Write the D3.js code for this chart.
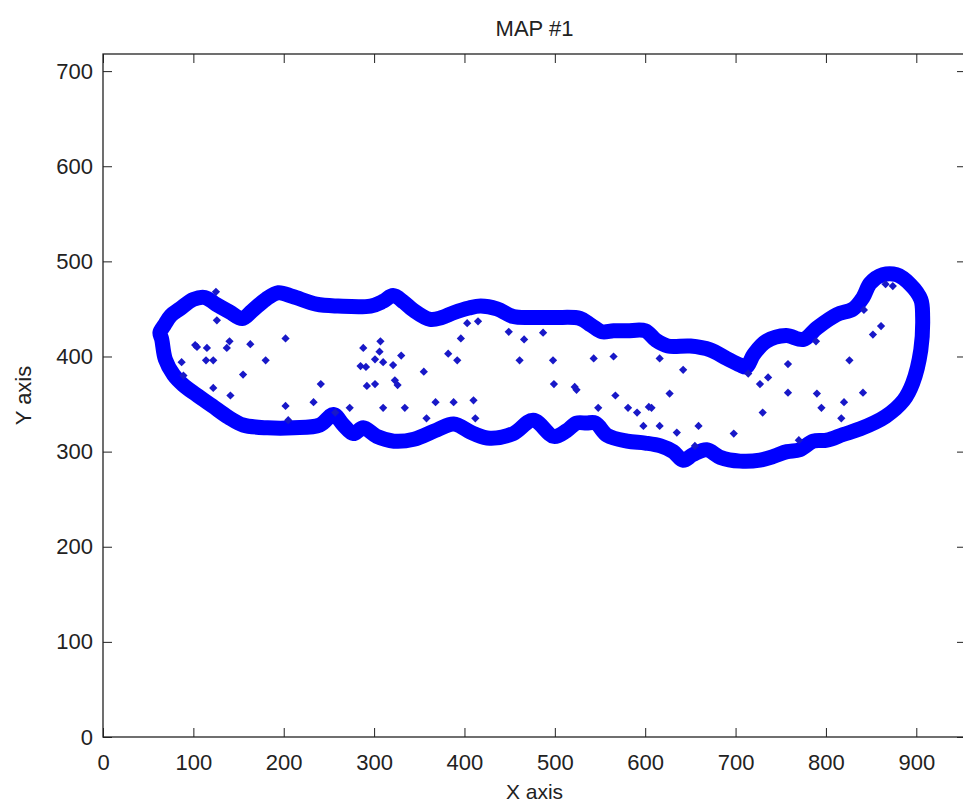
<!DOCTYPE html>
<html>
<head>
<meta charset="utf-8">
<script src="https://cdn.jsdelivr.net/npm/d3@7"></script>
<style>
  body { margin: 0; background: #fff; }
  text { font-family: Arial, 'Liberation Sans', sans-serif; fill: #222; }
</style>
</head>
<body>
<div id="map-chart"></div>
<script>
/* global d3 */

// outline of the area, traced clockwise from the left tip
const boundaryX = [63, 68, 75, 85, 100, 113, 125, 140, 154, 165, 180, 194, 210, 236, 260, 296, 310, 321, 333, 343,
  362, 375, 388, 405, 418, 436, 454, 475, 500, 528, 540, 552, 565, 580, 600, 612, 625, 650, 672, 690,
  705, 712, 720, 734, 756, 775, 790, 812, 830, 841, 849, 863, 878, 893, 905, 907, 905, 896, 886, 866,
  838, 819, 801, 786, 771, 757, 742, 727, 705, 683, 668, 653, 642, 631, 617, 600, 580, 558, 545, 535,
  524, 513, 499, 476, 454, 428, 410, 388, 370, 344, 322, 303, 288, 277, 266, 255, 240, 211, 182, 155,
  139, 121, 103, 89, 78, 69, 65]
const boundaryY = [425, 433, 443, 450, 460, 462, 455, 447, 440, 448, 460, 467, 463, 455, 453, 453, 458, 464, 457, 449,
  439, 441, 446, 451, 453, 450, 442, 441, 441, 440, 433, 426, 427, 427, 427, 417, 411, 411, 407, 398,
  391, 389, 402, 416, 422, 418, 430, 444, 450, 462, 477, 486, 486, 476, 460, 442, 407, 372, 354, 337,
  324, 318, 312, 311, 302, 300, 295, 291, 290, 294, 302, 297, 291, 300, 306, 309, 311, 317, 330, 330,
  330, 322, 316, 333, 319, 314, 319, 329, 323, 313, 311, 316, 325, 319, 328, 339, 328, 325, 325, 328,
  336, 348, 360, 370, 381, 397, 418]

// sample points inside the area
const pointsX = [125, 126, 102, 104, 115, 140, 137, 163, 202, 87, 114, 122, 180, 89, 155, 122, 141, 241, 202, 233,
  273, 257, 205, 288, 285, 291, 292, 307, 306, 301, 310, 321, 330, 301, 323, 326, 310, 334, 355, 358,
  368, 388, 410, 412, 382, 392, 396, 403, 415, 449, 466, 461, 487, 498, 499, 522, 524, 543, 565, 548,
  567, 581, 591, 604, 607, 598, 616, 627, 635, 642, 616, 659, 655, 698, 714, 727, 736, 730, 758, 758,
  789, 790, 795, 820, 817, 770, 826, 841, 842, 852, 861, 866, 874]
const pointsY = [468, 438, 412, 410, 409, 416, 409, 413, 419, 394, 396, 396, 396, 380, 381, 367, 359, 371, 348, 352,
  346, 341, 333, 409, 390, 389, 369, 416, 405, 397, 394, 391, 401, 371, 375, 370, 346, 346, 384, 335,
  352, 352, 354, 335, 403, 396, 419, 435, 437, 426, 418, 396, 425, 396, 371, 368, 365, 398, 400, 346,
  359, 346, 341, 347, 346, 327, 327, 361, 320, 386, 398, 327, 306, 319, 382, 371, 378, 341, 392, 362,
  416, 361, 346, 352, 335, 312, 396, 362, 449, 423, 432, 476, 474]

const xTicks = [0, 100, 200, 300, 400, 500, 600, 700, 800, 900]
const yTicks = [0, 100, 200, 300, 400, 500, 600, 700]

const renderMap = () => {
  const svgWidth = 963
  const svgHeight = 805
  // the frame runs a few px past the right edge of the picture
  const margin = { top: 54, right: -3, bottom: 68, left: 103 }
  const width = svgWidth - margin.left - margin.right
  const height = svgHeight - margin.top - margin.bottom

  const xScale = d3.scaleLinear()
    .domain([0, 955])
    .range([0, width])

  const yScale = d3.scaleLinear()
    .domain([0, 718])
    .range([height, 0])

  const root = d3.select('#map-chart').append('svg')
    .attr('width', svgWidth)
    .attr('height', svgHeight)
    .style('display', 'block')

  root.append('rect')
    .attr('width', svgWidth)
    .attr('height', svgHeight)
    .attr('fill', '#fff')

  const svg = root.append('g')
    .attr('transform', 'translate(' + margin.left + ',' + margin.top + ')')

  const tickLen = 9

  // bottom / left axes with labels, ticks pointing inward
  const xAxis = svg.append('g')
    .attr('transform', 'translate(0,' + height + ')')
    .call(d3.axisBottom(xScale).tickValues(xTicks).tickSize(-tickLen).tickPadding(tickLen + 8))
  const yAxis = svg.append('g')
    .call(d3.axisLeft(yScale).tickValues(yTicks).tickSize(-tickLen).tickPadding(10))
  // top / right: ticks only
  const xTop = svg.append('g')
    .call(d3.axisTop(xScale).tickValues(xTicks).tickSize(-tickLen).tickFormat(''))
  const yRight = svg.append('g')
    .attr('transform', 'translate(' + width + ',0)')
    .call(d3.axisRight(yScale).tickValues(yTicks).tickSize(-tickLen).tickFormat(''))

  ;[xAxis, yAxis, xTop, yRight].forEach((g) => {
    g.select('.domain').remove()
    g.selectAll('.tick line').attr('stroke', '#222')
    g.selectAll('.tick text')
      .attr('font-size', 22)
      .attr('font-family', 'Arial, Liberation Sans, sans-serif')
      .attr('fill', '#222')
  })

  // box around the plot
  svg.append('rect')
    .attr('width', width)
    .attr('height', height)
    .attr('fill', 'none')
    .attr('stroke', '#222')
    .attr('stroke-width', 1.3)

  // thick outline
  const outline = boundaryX.map((x, i) => [x, boundaryY[i]])
  svg.append('path')
    .datum(outline)
    .attr('fill', 'none')
    .attr('stroke', '#0000ff')
    .attr('stroke-width', 15)
    .attr('stroke-linejoin', 'round')
    .attr('d', d3.line()
      .x((d) => xScale(d[0]))
      .y((d) => yScale(d[1]))
      .curve(d3.curveCatmullRomClosed)
    )

  // scattered points
  const marker = d3.symbol().type(d3.symbolSquare).size(34)
  svg.selectAll('.pt')
    .data(pointsX.map((x, i) => [x, pointsY[i]]))
    .enter().append('path')
    .attr('class', 'pt')
    .attr('d', marker)
    .attr('fill', '#1818c8')
    .attr('transform', (d) => 'translate(' + xScale(d[0]) + ',' + yScale(d[1]) + ') rotate(45)')

  // titles
  const cx = width / 2
  svg.append('text')
    .attr('x', cx)
    .attr('y', -18)
    .attr('text-anchor', 'middle')
    .attr('font-size', 22)
    .text('MAP #1')

  svg.append('text')
    .attr('x', cx)
    .attr('y', height + 62)
    .attr('text-anchor', 'middle')
    .attr('font-size', 21)
    .text('X axis')

  svg.append('text')
    .attr('transform', 'translate(' + (-72) + ',' + (height / 2) + ') rotate(-90)')
    .attr('text-anchor', 'middle')
    .attr('font-size', 22)
    .text('Y axis')
}

renderMap()
</script>
</body>
</html>
